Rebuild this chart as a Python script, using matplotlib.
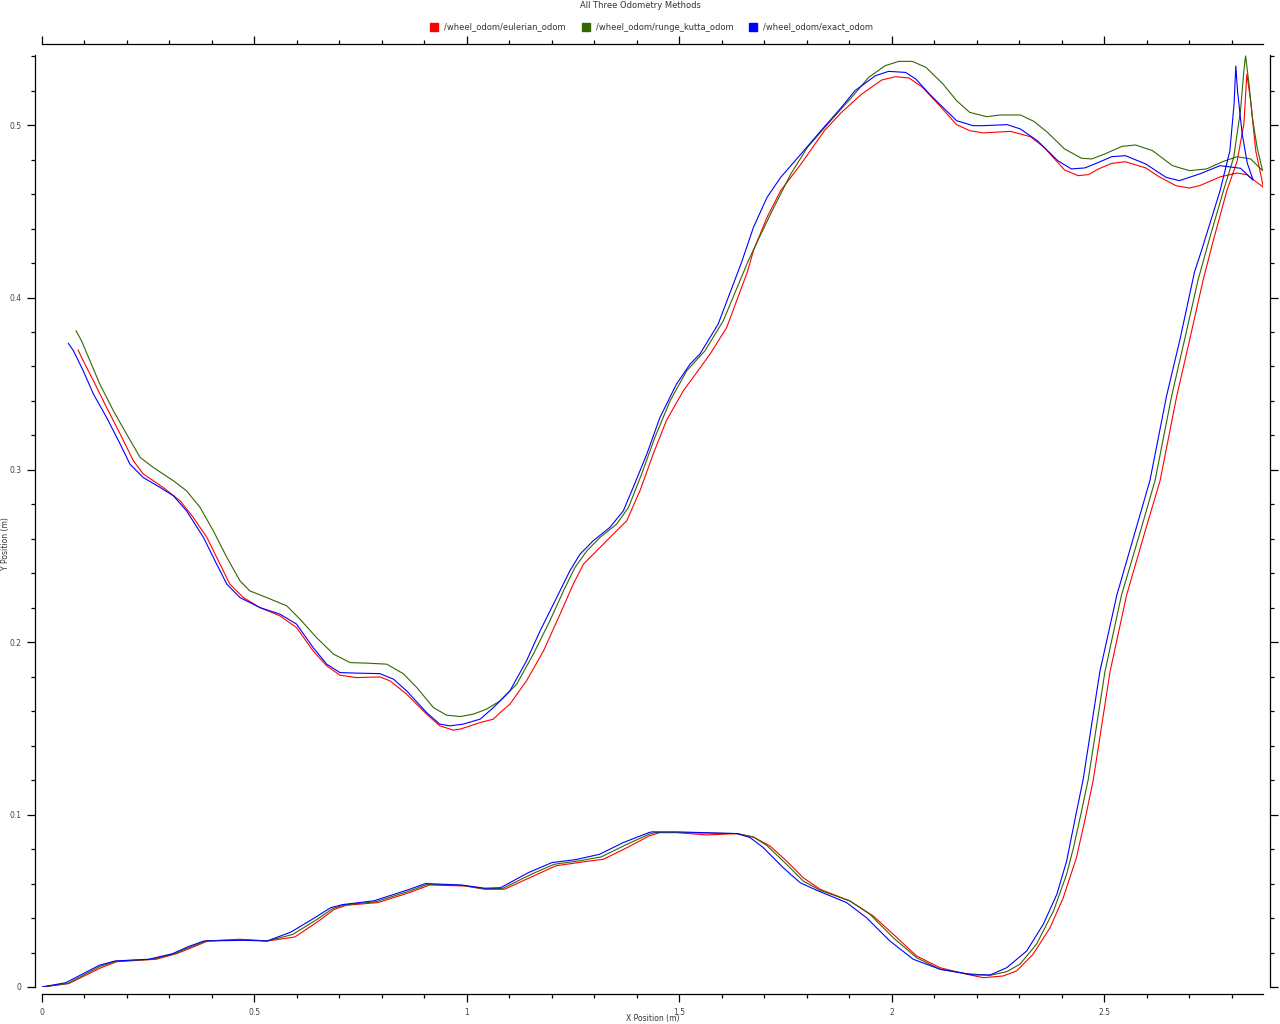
import matplotlib
matplotlib.use('Agg')
import matplotlib.pyplot as plt
import numpy as np
from matplotlib.lines import Line2D
from matplotlib.ticker import MultipleLocator, FuncFormatter

# ---- data (metres) ----
# each run: outbound leg (bottom curve + climb to the spike), then the return leg

euler_out_x = [0, 0.063, 0.139, 0.176, 0.269, 0.316, 0.362, 0.390, 0.465, 0.530, 0.595, 0.651, 0.688,
               0.716, 0.791, 0.865, 0.912, 0.995, 1.042, 1.088, 1.162, 1.209, 1.274, 1.321, 1.377, 1.428,
               1.454, 1.493, 1.564, 1.635, 1.674, 1.713, 1.752, 1.791, 1.831, 1.901, 1.956, 2.003, 2.058,
               2.113, 2.176, 2.215, 2.262, 2.293, 2.332, 2.372, 2.403, 2.434, 2.455, 2.474, 2.513, 2.552,
               2.599, 2.631, 2.670, 2.701, 2.732, 2.756, 2.788, 2.812, 2.828, 2.835]
euler_out_y = [0, 0.002, 0.0112, 0.0147, 0.0161, 0.0193, 0.0238, 0.0267, 0.0277, 0.0267, 0.029, 0.0383,
               0.0451, 0.0474, 0.049, 0.0548, 0.0592, 0.0586, 0.0567, 0.0567, 0.065, 0.0703, 0.0726, 0.0741,
               0.0809, 0.0876, 0.0896, 0.0896, 0.0882, 0.089, 0.087, 0.0818, 0.0731, 0.0634, 0.0567, 0.0499,
               0.0412, 0.0306, 0.018, 0.0112, 0.0074, 0.0054, 0.0064, 0.0093, 0.019, 0.0344, 0.0518, 0.075,
               0.098, 0.1207, 0.1828, 0.2273, 0.2673, 0.2939, 0.3428, 0.3761, 0.41, 0.433, 0.462, 0.479,
               0.5007, 0.5297]
euler_back_x = [2.844, 2.856, 2.874, 2.835, 2.812, 2.772, 2.724, 2.700, 2.668, 2.629, 2.597, 2.549, 2.517,
                2.486, 2.462, 2.438, 2.406, 2.358, 2.326, 2.279, 2.215, 2.183, 2.152, 2.112, 2.072, 2.040,
                2.008, 1.976, 1.929, 1.881, 1.841, 1.786, 1.738, 1.706, 1.674, 1.660, 1.611, 1.572, 1.532,
                1.509, 1.469, 1.438, 1.407, 1.376, 1.352, 1.313, 1.274, 1.250, 1.219, 1.180, 1.140, 1.101,
                1.078, 1.062, 1.031, 0.984, 0.968, 0.936, 0.905, 0.858, 0.819, 0.795, 0.740, 0.701, 0.670,
                0.638, 0.599, 0.560, 0.513, 0.474, 0.442, 0.419, 0.388, 0.356, 0.325, 0.285, 0.238, 0.215,
                0.184, 0.152, 0.121, 0.097, 0.085]
euler_back_y = [0.514, 0.485, 0.4639, 0.4713, 0.4722, 0.470, 0.4649, 0.4635, 0.4649, 0.470, 0.4752, 0.4788,
                0.4778, 0.4746, 0.4713, 0.4707, 0.474, 0.4871, 0.4933, 0.4964, 0.4955, 0.4968, 0.5003, 0.5113,
                0.5219, 0.5274, 0.5281, 0.5262, 0.5181, 0.5074, 0.4968, 0.4775, 0.462, 0.4465, 0.4272, 0.415,
                0.3826, 0.3672, 0.3536, 0.3459, 0.3285, 0.3091, 0.2879, 0.2705, 0.2647, 0.255, 0.2453, 0.2337,
                0.2163, 0.195, 0.1776, 0.1641, 0.1592, 0.1554, 0.1534, 0.1496, 0.149, 0.1515, 0.1583, 0.1699,
                0.1776, 0.1799, 0.1795, 0.1809, 0.1863, 0.195, 0.2085, 0.2153, 0.2201, 0.2259, 0.2337, 0.2453,
                0.2608, 0.2724, 0.2821, 0.2898, 0.2977, 0.3053, 0.3208, 0.3362, 0.3517, 0.3633, 0.3695]

rk_out_x = [0, 0.060, 0.137, 0.174, 0.260, 0.312, 0.353, 0.386, 0.470, 0.530, 0.590, 0.647, 0.684, 0.712,
            0.786, 0.865, 0.907, 0.990, 1.042, 1.084, 1.153, 1.205, 1.265, 1.316, 1.372, 1.428, 1.442, 1.493,
            1.635, 1.674, 1.705, 1.752, 1.791, 1.831, 1.901, 1.948, 2.003, 2.058, 2.113, 2.176, 2.231, 2.270,
            2.301, 2.340, 2.380, 2.411, 2.427, 2.446, 2.462, 2.501, 2.540, 2.588, 2.619, 2.658, 2.689, 2.720,
            2.748, 2.780, 2.804, 2.820, 2.828, 2.832]
rk_out_y = [0, 0.002, 0.012, 0.015, 0.0161, 0.0193, 0.0236, 0.0267, 0.0274, 0.0267, 0.0305, 0.0392, 0.0455,
            0.0476, 0.0495, 0.0557, 0.0596, 0.0589, 0.057, 0.0572, 0.0656, 0.0712, 0.0732, 0.0755, 0.0823,
            0.0886, 0.0896, 0.0896, 0.089, 0.087, 0.0822, 0.0712, 0.0615, 0.0561, 0.0499, 0.0422, 0.0286,
            0.017, 0.0103, 0.0077, 0.0068, 0.0089, 0.0132, 0.0248, 0.0441, 0.0654, 0.0807, 0.102, 0.1207,
            0.1828, 0.2273, 0.2673, 0.2939, 0.3428, 0.3761, 0.41, 0.4349, 0.462, 0.4813, 0.5084, 0.5316,
            0.5403]
rk_back_x = [2.840, 2.848, 2.859, 2.872, 2.844, 2.812, 2.780, 2.740, 2.700, 2.660, 2.613, 2.573, 2.541,
             2.501, 2.470, 2.446, 2.406, 2.366, 2.334, 2.302, 2.255, 2.223, 2.183, 2.152, 2.120, 2.080, 2.048,
             2.016, 1.984, 1.945, 1.905, 1.849, 1.801, 1.762, 1.722, 1.690, 1.662, 1.603, 1.560, 1.517,
             1.478, 1.442, 1.411, 1.380, 1.352, 1.313, 1.282, 1.254, 1.227, 1.195, 1.156, 1.117, 1.078,
             1.046, 1.015, 0.984, 0.952, 0.921, 0.882, 0.850, 0.811, 0.764, 0.725, 0.686, 0.646, 0.607,
             0.576, 0.529, 0.489, 0.466, 0.435, 0.403, 0.372, 0.340, 0.309, 0.262, 0.231, 0.199, 0.168,
             0.136, 0.113, 0.093, 0.080]
rk_back_y = [0.5239, 0.5045, 0.4871, 0.4736, 0.4804, 0.4817, 0.479, 0.4746, 0.4736, 0.4765, 0.4852, 0.4885,
             0.4877, 0.4833, 0.4804, 0.4808, 0.4862, 0.4958, 0.5022, 0.5059, 0.5059, 0.5049, 0.5074, 0.5142,
             0.5239, 0.5335, 0.537, 0.537, 0.5345, 0.5277, 0.5161, 0.5007, 0.4871, 0.4717, 0.4523, 0.436,
             0.4214, 0.3865, 0.3691, 0.3575, 0.3401, 0.3188, 0.2976, 0.2782, 0.2685, 0.2608, 0.253, 0.2434,
             0.2298, 0.2124, 0.1931, 0.1757, 0.166, 0.1612, 0.1583, 0.1569, 0.1577, 0.1621, 0.1737, 0.1818,
             0.1873, 0.1879, 0.1882, 0.1931, 0.2027, 0.2134, 0.2211, 0.2259, 0.2298, 0.2356, 0.2492, 0.2647,
             0.2782, 0.2879, 0.2937, 0.3014, 0.3072, 0.3208, 0.3343, 0.3498, 0.3633, 0.3749, 0.3807]

exact_out_x = [0, 0.056, 0.135, 0.172, 0.251, 0.307, 0.344, 0.381, 0.475, 0.530, 0.586, 0.642, 0.679,
               0.707, 0.781, 0.865, 0.902, 0.986, 1.042, 1.079, 1.144, 1.200, 1.256, 1.312, 1.367, 1.428,
               1.435, 1.493, 1.635, 1.666, 1.697, 1.744, 1.784, 1.823, 1.893, 1.940, 1.995, 2.050, 2.113,
               2.191, 2.231, 2.270, 2.317, 2.356, 2.388, 2.411, 2.432, 2.450, 2.489, 2.529, 2.576, 2.607,
               2.646, 2.678, 2.712, 2.728, 2.772, 2.795, 2.805, 2.809]
exact_out_y = [0, 0.0025, 0.0126, 0.0151, 0.0161, 0.0193, 0.0234, 0.0267, 0.0271, 0.0267, 0.0319, 0.0402,
               0.046, 0.0478, 0.050, 0.0567, 0.060, 0.0592, 0.0573, 0.0576, 0.0663, 0.0722, 0.0739, 0.077,
               0.0837, 0.0896, 0.090, 0.090, 0.089, 0.0867, 0.0809, 0.0692, 0.0605, 0.0561, 0.049, 0.0402,
               0.0267, 0.0161, 0.0103, 0.007, 0.007, 0.0112, 0.0209, 0.0364, 0.0538, 0.0731, 0.099, 0.1207,
               0.1828, 0.2273, 0.2673, 0.2939, 0.3428, 0.3761, 0.415, 0.427, 0.462, 0.485, 0.5125, 0.5345]
exact_back_x = [2.813, 2.824, 2.836, 2.850, 2.820, 2.772, 2.724, 2.676, 2.645, 2.597, 2.549, 2.517, 2.486,
                2.454, 2.422, 2.390, 2.342, 2.302, 2.271, 2.215, 2.191, 2.152, 2.120, 2.088, 2.056, 2.032,
                1.992, 1.961, 1.913, 1.881, 1.833, 1.786, 1.738, 1.706, 1.674, 1.646, 1.591, 1.548, 1.525,
                1.493, 1.454, 1.423, 1.391, 1.368, 1.336, 1.297, 1.266, 1.242, 1.211, 1.172, 1.140, 1.101,
                1.078, 1.062, 1.031, 0.991, 0.960, 0.936, 0.905, 0.858, 0.827, 0.795, 0.740, 0.701, 0.670,
                0.638, 0.599, 0.560, 0.513, 0.466, 0.435, 0.411, 0.380, 0.340, 0.309, 0.278, 0.238, 0.207,
                0.184, 0.152, 0.121, 0.097, 0.074, 0.062]
exact_back_y = [0.520, 0.495, 0.478, 0.468, 0.475, 0.4765, 0.4717, 0.4678, 0.4697, 0.4775, 0.4823, 0.4817,
                0.4784, 0.4752, 0.4746, 0.4794, 0.491, 0.4978, 0.5003, 0.4997, 0.4997, 0.5026, 0.5103, 0.5181,
                0.5268, 0.5306, 0.5312, 0.5287, 0.520, 0.5103, 0.4968, 0.4833, 0.4697, 0.4581, 0.4407, 0.4204,
                0.3846, 0.3672, 0.3614, 0.3498, 0.3304, 0.3091, 0.2898, 0.2763, 0.2666, 0.2589, 0.2511, 0.2414,
                0.2259, 0.2066, 0.1892, 0.1718, 0.166, 0.1621, 0.1554, 0.1525, 0.1515, 0.1525, 0.1592, 0.1718,
                0.1786, 0.1818, 0.1821, 0.1824, 0.1873, 0.1969, 0.2105, 0.2163, 0.2201, 0.2259, 0.2337, 0.2453,
                0.2608, 0.2763, 0.285, 0.2898, 0.2956, 0.3033, 0.315, 0.3304, 0.344, 0.3575, 0.3691, 0.3734]

labels = ['/wheel_odom/eulerian_odom', '/wheel_odom/runge_kutta_odom', '/wheel_odom/exact_odom']
colors = ['#ff0000', '#336600', '#0000ff']

W, H, DPI = 1280, 1024, 100
PX = 72.0 / DPI  # points per pixel

plt.rcParams['font.family'] = ['DejaVu Sans']

fig = plt.figure(figsize=(W / DPI, H / DPI), dpi=DPI)
# data box in pixels: x 42..1263, y 55..987
ax = fig.add_axes([42 / W, 1 - 987 / H, (1263 - 42) / W, (987 - 55) / H])

runs = [(euler_out_x + euler_back_x, euler_out_y + euler_back_y),
        (rk_out_x + rk_back_x, rk_out_y + rk_back_y),
        (exact_out_x + exact_back_x, exact_out_y + exact_back_y)]
for (xs, ys), c in zip(runs, colors):
    ax.plot(xs, ys, color=c, lw=0.8, solid_joinstyle='miter')

ax.set_xlim(0, 2.873)
ax.set_ylim(0, 0.5407)

# detached border like the original
ax.spines['left'].set_position(('outward', 7 * PX))
ax.spines['right'].set_position(('outward', 7 * PX))
ax.spines['bottom'].set_position(('outward', 7 * PX))
ax.spines['top'].set_position(('outward', 11 * PX))
for s in ax.spines.values():
    s.set_linewidth(0.9)

ax.xaxis.set_major_locator(MultipleLocator(0.5))
ax.xaxis.set_minor_locator(MultipleLocator(0.1))
ax.yaxis.set_major_locator(MultipleLocator(0.1))
ax.yaxis.set_minor_locator(MultipleLocator(0.02))
fmt = FuncFormatter(lambda v, p: f'{v:g}')
ax.xaxis.set_major_formatter(fmt)
ax.yaxis.set_major_formatter(fmt)

ax.tick_params(which='both', direction='out', top=True, right=True,
               labeltop=False, labelright=False, width=0.9,
               labelsize=5.5, labelcolor='#444444', pad=4)
ax.tick_params(which='major', length=8 * PX)
ax.tick_params(which='minor', length=4 * PX)

ax.set_xlabel('X Position (m)', fontsize=5.5, color='#333333', va='center')
ax.xaxis.set_label_coords(0.5, -(1019 - 987) / (987 - 55))
ax.set_ylabel('Y Position (m)', fontsize=5.5, color='#333333', va='center')
ax.yaxis.set_label_coords(-(42 - 6) / (1263 - 42), (987 - 544) / (987 - 55))

fig.text(0.5, 1 - 5 / H, 'All Three Odometry Methods', ha='center', va='center',
         fontsize=6, color='#333333')

handles = [Line2D([], [], ls='', marker='s', markersize=6, color=c) for c in colors]
fig.legend(handles, labels, loc='center', bbox_to_anchor=(652 / W, 1 - 27 / H), ncol=3,
           frameon=False, fontsize=6, handlelength=0.8, handletextpad=0.8,
           columnspacing=2.0, labelcolor='#333333')

fig.savefig('out.png', dpi=DPI)
